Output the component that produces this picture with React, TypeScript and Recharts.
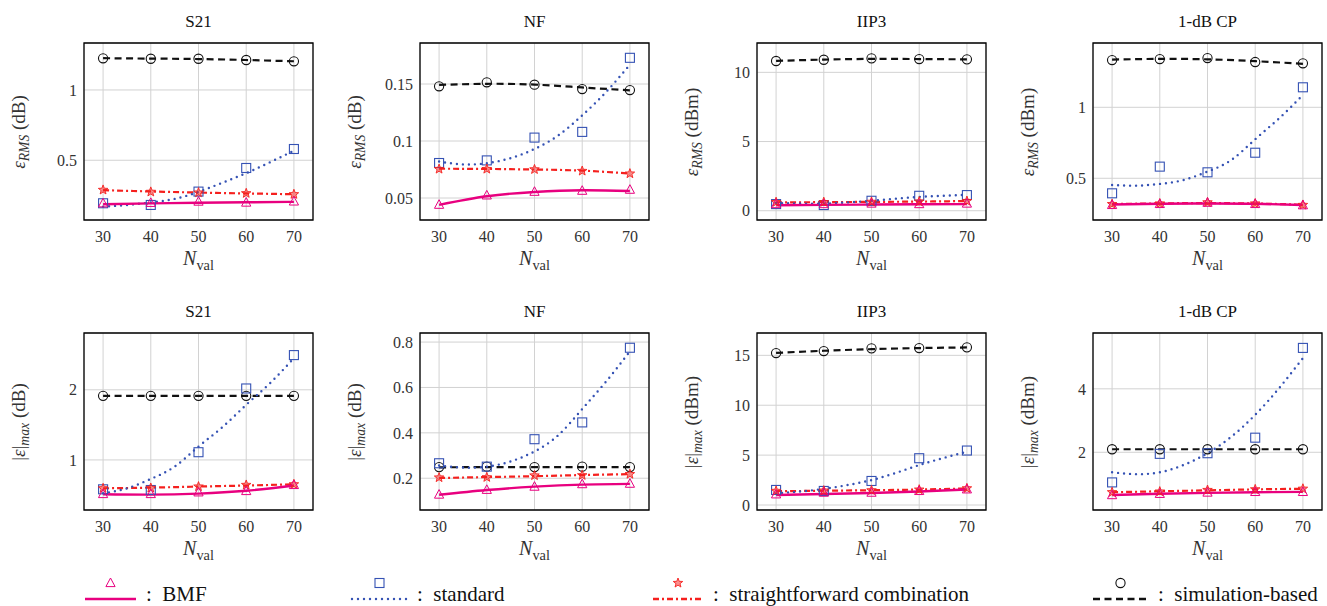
import React from "react";
import { ComposedChart, Line, XAxis, YAxis, CartesianGrid, ReferenceArea } from "recharts";

// validation sizes (markers) and the points the fitted curves were read at
const nVal = [30, 40, 50, 60, 70];
const nFit = [30, 35, 40, 45, 50, 55, 60, 65, 70];

// S21, eps_RMS
const s21RmsBmf = [0.194, 0.197, 0.206, 0.199, 0.207];
const s21RmsStd = [0.194, 0.182, 0.277, 0.445, 0.58];
const s21RmsSfc = [0.289, 0.275, 0.27, 0.265, 0.258];
const s21RmsSim = [1.225, 1.222, 1.222, 1.213, 1.204];
const s21RmsBmfFit = [0.187, 0.193, 0.198, 0.201, 0.204];
const s21RmsStdFit = [0.17, 0.182, 0.2, 0.225, 0.275, 0.34, 0.408, 0.486, 0.568];
const s21RmsSfcFit = [0.287, 0.278, 0.27, 0.264, 0.258];
const s21RmsSimFit = [1.226, 1.223, 1.22, 1.213, 1.204];

// NF, eps_RMS
const nfRmsBmf = [0.0441, 0.0523, 0.0555, 0.0564, 0.0573];
const nfRmsStd = [0.0807, 0.083, 0.103, 0.108, 0.173];
const nfRmsSfc = [0.0754, 0.0754, 0.0751, 0.0737, 0.0714];
const nfRmsSim = [0.148, 0.1515, 0.1494, 0.1456, 0.1447];
const nfRmsBmfFit = [0.044, 0.0515, 0.0553, 0.0568, 0.0562];
const nfRmsStdFit = [0.082, 0.0795, 0.0805, 0.085, 0.093, 0.105, 0.1225, 0.143, 0.167];
const nfRmsSfcFit = [0.0757, 0.0755, 0.075, 0.074, 0.0715];
const nfRmsSimFit = [0.1492, 0.1502, 0.1495, 0.147, 0.1445];

// IIP3, eps_RMS
const iipRmsBmf = [0.48, 0.48, 0.52, 0.48, 0.52];
const iipRmsStd = [0.48, 0.41, 0.72, 1.08, 1.13];
const iipRmsSfc = [0.62, 0.62, 0.64, 0.66, 0.7];
const iipRmsSim = [10.82, 10.91, 11.01, 10.96, 10.94];
const iipRmsBmfFit = [0.4, 0.42, 0.45, 0.47, 0.48];
const iipRmsStdFit = [0.56, 0.52, 0.52, 0.6, 0.72, 0.87, 1.0, 1.08, 1.15];
const iipRmsSfcFit = [0.6, 0.62, 0.64, 0.66, 0.7];
const iipRmsSimFit = [10.83, 10.92, 10.97, 10.96, 10.94];

// 1-dB CP, eps_RMS
const cpRmsBmf = [0.312, 0.319, 0.328, 0.319, 0.31];
const cpRmsStd = [0.394, 0.582, 0.542, 0.68, 1.141];
const cpRmsSfc = [0.318, 0.322, 0.33, 0.322, 0.312];
const cpRmsSim = [1.333, 1.34, 1.347, 1.319, 1.31];
const cpRmsBmfFit = [0.315, 0.32, 0.322, 0.32, 0.312];
const cpRmsStdFit = [0.453, 0.448, 0.46, 0.488, 0.547, 0.629, 0.775, 0.922, 1.087];
const cpRmsSfcFit = [0.318, 0.323, 0.325, 0.322, 0.314];
const cpRmsSimFit = [1.336, 1.341, 1.338, 1.325, 1.306];

// S21, |eps|_max
const s21MaxBmf = [0.514, 0.514, 0.538, 0.557, 0.643];
const s21MaxStd = [0.581, 0.571, 1.11, 2.019, 2.495];
const s21MaxSfc = [0.595, 0.6, 0.62, 0.643, 0.652];
const s21MaxSim = [1.914, 1.914, 1.914, 1.914, 1.914];
const s21MaxBmfFit = [0.51, 0.505, 0.52, 0.56, 0.635];
const s21MaxStdFit = [0.524, 0.595, 0.729, 0.905, 1.19, 1.467, 1.786, 2.095, 2.452];
const s21MaxSfcFit = [0.595, 0.605, 0.62, 0.635, 0.652];
const s21MaxSimFit = [1.914, 1.914, 1.914, 1.914, 1.914];

// NF, |eps|_max
const nfMaxBmf = [0.128, 0.149, 0.163, 0.174, 0.176];
const nfMaxStd = [0.266, 0.251, 0.372, 0.446, 0.775];
const nfMaxSfc = [0.203, 0.204, 0.212, 0.213, 0.218];
const nfMaxSim = [0.249, 0.251, 0.249, 0.251, 0.249];
const nfMaxBmfFit = [0.127, 0.148, 0.163, 0.172, 0.175];
const nfMaxStdFit = [0.256, 0.247, 0.251, 0.274, 0.318, 0.39, 0.505, 0.626, 0.759];
const nfMaxSfcFit = [0.201, 0.205, 0.209, 0.214, 0.218];
const nfMaxSimFit = [0.248, 0.249, 0.249, 0.249, 0.249];

// IIP3, |eps|_max
const iipMaxBmf = [1.07, 1.24, 1.24, 1.41, 1.57];
const iipMaxStd = [1.51, 1.41, 2.41, 4.69, 5.46];
const iipMaxSfc = [1.41, 1.44, 1.47, 1.54, 1.67];
const iipMaxSim = [15.23, 15.43, 15.7, 15.73, 15.8];
const iipMaxBmfFit = [1.0, 1.1, 1.2, 1.35, 1.55];
const iipMaxStdFit = [1.17, 1.35, 1.62, 2.0, 2.5, 3.2, 4.0, 4.7, 5.35];
const iipMaxSfcFit = [1.38, 1.43, 1.48, 1.55, 1.66];
const iipMaxSimFit = [15.25, 15.46, 15.62, 15.73, 15.79];

// 1-dB CP, |eps|_max
const cpMaxBmf = [0.65, 0.69, 0.73, 0.75, 0.75];
const cpMaxStd = [1.05, 1.95, 1.97, 2.46, 5.29];
const cpMaxSfc = [0.74, 0.76, 0.81, 0.83, 0.85];
const cpMaxSim = [2.095, 2.095, 2.095, 2.095, 2.095];
const cpMaxBmfFit = [0.65, 0.69, 0.72, 0.74, 0.75];
const cpMaxStdFit = [1.37, 1.31, 1.37, 1.6, 1.97, 2.49, 3.18, 4.02, 4.97];
const cpMaxSfcFit = [0.74, 0.77, 0.8, 0.83, 0.85];
const cpMaxSimFit = [2.095, 2.095, 2.095, 2.095, 2.095];

const titles = ["S21", "NF", "IIP3", "1-dB CP"];
const units = ["dB", "dB", "dBm", "dBm"];
const xTicks = [30, 40, 50, 60, 70];

const panels = [
	{ row: 0, col: 0, domain: [0.075, 1.334], ticks: [0.5, 1], s: [s21RmsBmf, s21RmsStd, s21RmsSfc, s21RmsSim, s21RmsBmfFit, s21RmsStdFit, s21RmsSfcFit, s21RmsSimFit] },
	{ row: 0, col: 1, domain: [0.0307, 0.186], ticks: [0.05, 0.1, 0.15], s: [nfRmsBmf, nfRmsStd, nfRmsSfc, nfRmsSim, nfRmsBmfFit, nfRmsStdFit, nfRmsSfcFit, nfRmsSimFit] },
	{ row: 0, col: 2, domain: [-0.67, 12.12], ticks: [0, 5, 10], s: [iipRmsBmf, iipRmsStd, iipRmsSfc, iipRmsSim, iipRmsBmfFit, iipRmsStdFit, iipRmsSfcFit, iipRmsSimFit] },
	{ row: 0, col: 3, domain: [0.206, 1.453], ticks: [0.5, 1], s: [cpRmsBmf, cpRmsStd, cpRmsSfc, cpRmsSim, cpRmsBmfFit, cpRmsStdFit, cpRmsSfcFit, cpRmsSimFit] },
	{ row: 1, col: 0, domain: [0.286, 2.81], ticks: [1, 2], s: [s21MaxBmf, s21MaxStd, s21MaxSfc, s21MaxSim, s21MaxBmfFit, s21MaxStdFit, s21MaxSfcFit, s21MaxSimFit] },
	{ row: 1, col: 1, domain: [0.06, 0.84], ticks: [0.2, 0.4, 0.6, 0.8], s: [nfMaxBmf, nfMaxStd, nfMaxSfc, nfMaxSim, nfMaxBmfFit, nfMaxStdFit, nfMaxSfcFit, nfMaxSimFit] },
	{ row: 1, col: 2, domain: [-0.5, 17.24], ticks: [0, 5, 10, 15], s: [iipMaxBmf, iipMaxStd, iipMaxSfc, iipMaxSim, iipMaxBmfFit, iipMaxStdFit, iipMaxSfcFit, iipMaxSimFit] },
	{ row: 1, col: 3, domain: [0.18, 5.76], ticks: [2, 4], s: [cpMaxBmf, cpMaxStd, cpMaxSfc, cpMaxSim, cpMaxBmfFit, cpMaxStdFit, cpMaxSfcFit, cpMaxSimFit] },
];

const PINK = "#e8007f";
const BLUE = "#3552b4";
const RED = "#f5201e";
const BLACK = "#111";
const SERIF = "'Liberation Serif', 'Times New Roman', serif";

const colLeft = [84, 420, 757, 1093];
const rowTop = [43, 333];
const PW = 229;
const PH = 177;
const YW = 60;
const XH = 30;
const M = 2;

function buildRows(s: number[][]) {
	return nFit.map((x) => {
		const i = nVal.indexOf(x);
		const at = (arr: number[]) => (i >= 0 ? arr[i] : null);
		return {
			x,
			bmf: at(s[0]),
			std: at(s[1]),
			sfc: at(s[2]),
			sim: at(s[3]),
			bmfFit: at(s[4]),
			stdFit: s[5][nFit.indexOf(x)],
			sfcFit: at(s[6]),
			simFit: at(s[7]),
		};
	});
}

function starPath(cx: number, cy: number, r: number) {
	let d = "";
	for (let k = 0; k < 10; k++) {
		const rr = k % 2 === 0 ? r : r * 0.42;
		const a = -Math.PI / 2 + (k * Math.PI) / 5;
		d += (k === 0 ? "M" : "L") + (cx + rr * Math.cos(a)).toFixed(2) + "," + (cy + rr * Math.sin(a)).toFixed(2);
	}
	return d + "Z";
}

function Marker({ kind, x, y }: { kind: string; x: number; y: number }) {
	if (kind === "bmf")
		return <polygon points={`${x},${y - 5} ${x - 4.6},${y + 3.6} ${x + 4.6},${y + 3.6}`} fill="none" stroke={PINK} strokeWidth={1} />;
	if (kind === "std") return <rect x={x - 4.5} y={y - 4.5} width={9} height={9} fill="none" stroke={BLUE} strokeWidth={1.1} />;
	if (kind === "sfc") return <path d={starPath(x, y, 5)} fill={RED} fillOpacity={0.5} stroke={RED} strokeWidth={0.9} />;
	return <circle cx={x} cy={y} r={4.6} fill="none" stroke={BLACK} strokeWidth={1.1} />;
}

const makeDot = (kind: string) => (props: any) => {
	const { cx, cy, value, index } = props;
	if (value == null || cx == null || cy == null) return <g key={`${kind}-${index}`} />;
	return <Marker key={`${kind}-${index}`} kind={kind} x={cx} y={cy} />;
};

function YLabel({ row, unit }: { row: number; unit: string }) {
	if (row === 0)
		return (
			<span>
				<i>ε</i>
				<sub style={{ fontSize: "0.72em", fontStyle: "italic" }}>RMS</sub> ({unit})
			</span>
		);
	return (
		<span>
			|<i>ε</i>|<sub style={{ fontSize: "0.72em", fontStyle: "italic" }}>max</sub> ({unit})
		</span>
	);
}

function Panel({ p }: { p: (typeof panels)[number] }) {
	const left = colLeft[p.col];
	const top = rowTop[p.row];
	const rows = buildRows(p.s);
	const tickStyle = { fontFamily: SERIF, fontSize: 16, fill: "#333" };
	return (
		<>
			<div style={{ position: "absolute", left: left, top: top - 31, width: PW, textAlign: "center", fontFamily: SERIF, fontSize: 17, color: "#111", lineHeight: "20px" }}>
				{titles[p.col]}
			</div>
			<div
				style={{
					position: "absolute",
					left: left - 62,
					top: top + PH / 2,
					transform: "translate(-50%, -50%) rotate(-90deg)",
					whiteSpace: "nowrap",
					fontFamily: SERIF,
					fontSize: 19,
					color: "#333",
					lineHeight: "22px",
				}}
			>
				<YLabel row={p.row} unit={units[p.col]} />
			</div>
			<div style={{ position: "absolute", left: left, top: top + PH + 27, width: PW, textAlign: "center", fontFamily: SERIF, fontSize: 20, color: "#333", lineHeight: "22px" }}>
				<i>N</i>
				<sub style={{ fontSize: "0.72em" }}>val</sub>
			</div>
			<div style={{ position: "absolute", left: left - YW, top: top - M }}>
				<ComposedChart width={YW + PW + M} height={PH + XH + M} data={rows} margin={{ top: M, right: M, left: 0, bottom: 0 }}>
					<CartesianGrid stroke="#d2d2d2" strokeWidth={1} />
					<XAxis dataKey="x" type="number" domain={[26, 74]} ticks={xTicks} allowDataOverflow height={XH} tickSize={0} tickMargin={11} axisLine={false} tick={tickStyle} />
					<YAxis type="number" domain={p.domain} ticks={p.ticks} allowDataOverflow width={YW} tickSize={0} tickMargin={7} axisLine={false} tick={tickStyle} />
					<Line dataKey="simFit" type="natural" stroke={BLACK} strokeWidth={2.2} strokeDasharray="7 4.5" dot={false} activeDot={false} connectNulls isAnimationActive={false} />
					<Line dataKey="sfcFit" type="natural" stroke={RED} strokeWidth={2.2} strokeDasharray="6 3 2 3" dot={false} activeDot={false} connectNulls isAnimationActive={false} />
					<Line dataKey="stdFit" type="natural" stroke={BLUE} strokeWidth={2.4} strokeDasharray="0 6" strokeLinecap="round" dot={false} activeDot={false} connectNulls isAnimationActive={false} />
					<Line dataKey="bmfFit" type="natural" stroke={PINK} strokeWidth={2.4} dot={false} activeDot={false} connectNulls isAnimationActive={false} />
					<Line dataKey="sim" stroke="none" dot={makeDot("sim")} activeDot={false} isAnimationActive={false} />
					<Line dataKey="std" stroke="none" dot={makeDot("std")} activeDot={false} isAnimationActive={false} />
					<Line dataKey="sfc" stroke="none" dot={makeDot("sfc")} activeDot={false} isAnimationActive={false} />
					<Line dataKey="bmf" stroke="none" dot={makeDot("bmf")} activeDot={false} isAnimationActive={false} />
					<ReferenceArea x1={26} x2={74} y1={p.domain[0]} y2={p.domain[1]} fill="none" stroke="#000" strokeWidth={1.3} ifOverflow="visible" />
				</ComposedChart>
			</div>
		</>
	);
}

const legendItems = [
	{ kind: "bmf", x1: 85, x2: 136, label: "BMF", dash: undefined, color: PINK },
	{ kind: "std", x1: 352, x2: 407, label: "standard", dash: "0 6", color: BLUE },
	{ kind: "sfc", x1: 653, x2: 703, label: "straightforward combination", dash: "6 3 2 3", color: RED },
	{ kind: "sim", x1: 1093, x2: 1148, label: "simulation-based", dash: "7 4.5", color: BLACK },
];

function Legend() {
	return (
		<svg width={1327} height={44} style={{ position: "absolute", left: 0, top: 562 }}>
			{legendItems.map((it) => (
				<g key={it.kind}>
					<line x1={it.x1} x2={it.x2} y1={37} y2={37} stroke={it.color} strokeWidth={2.4} strokeDasharray={it.dash} strokeLinecap={it.kind === "std" ? "round" : "butt"} />
					<Marker kind={it.kind} x={(it.x1 + it.x2) / 2} y={21} />
					<text x={it.x2 + 10} y={39} fontFamily={SERIF} fontSize={21} fill="#111">
						:{"\u2002"}{it.label}
					</text>
				</g>
			))}
		</svg>
	);
}

export default function App() {
	return (
		<div style={{ position: "absolute", left: 0, top: 0, width: 1327, height: 606, background: "#fff" }}>
			{panels.map((p) => (
				<Panel key={`${p.row}-${p.col}`} p={p} />
			))}
			<Legend />
		</div>
	);
}
